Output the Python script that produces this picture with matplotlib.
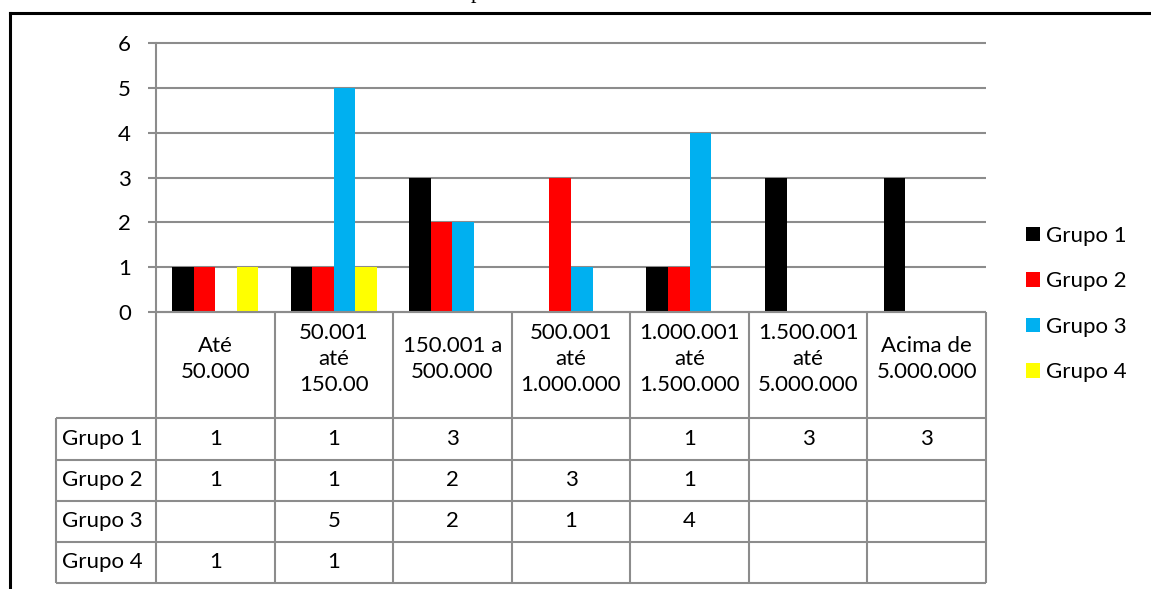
import numpy as np
import matplotlib
matplotlib.use("Agg")
import matplotlib.pyplot as plt
from matplotlib.lines import Line2D
from matplotlib.patches import Patch

plt.rcParams["font.family"] = ["Lato", "DejaVu Sans"]

# faixas de valor (categorias) e contagens por grupo
categorias = ["Até\n50.000", "50.001\naté\n150.00", "150.001 a\n500.000",
              "500.001\naté\n1.000.000", "1.000.001\naté\n1.500.000",
              "1.500.001\naté\n5.000.000", "Acima de\n5.000.000"]
grupos = ["Grupo 1", "Grupo 2", "Grupo 3", "Grupo 4"]
grupo1 = [1, 1, 3, np.nan, 1, 3, 3]
grupo2 = [1, 1, 2, 3, 1, np.nan, np.nan]
grupo3 = [np.nan, 5, 2, 1, 4, np.nan, np.nan]
grupo4 = [1, 1, np.nan, np.nan, np.nan, np.nan, np.nan]
cores = ["#000000", "#FF0000", "#00B0F0", "#FFFF00"]
yticks = [0, 1, 2, 3, 4, 5, 6]

W, H = 1151, 589
GRID = "#8C8C8C"
FS = 16

fig = plt.figure(figsize=(W / 100, H / 100), dpi=100)


def fx(px):
    return px / W


def fy(py):
    return 1 - py / H


# área do gráfico
x0, x1, ytop, y0 = 156, 986, 43, 312
ax = fig.add_axes([fx(x0), fy(y0), fx(x1 - x0), (y0 - ytop) / H])
ncat = len(categorias)
ax.set_xlim(-0.5, ncat - 0.5)
ax.set_ylim(0, 6)
for s in ("top", "right", "bottom"):
    ax.spines[s].set_visible(False)
ax.spines["left"].set_color(GRID)
ax.spines["left"].set_linewidth(1.5)
ax.set_xticks([])
ax.set_yticks(yticks)
ax.tick_params(axis="y", length=6, width=1.5, color=GRID, pad=12,
               labelsize=FS, labelcolor="black")
ax.hlines(yticks, -0.5, ncat - 0.5, color=GRID, lw=1.5, clip_on=False, zorder=1)

xs = np.arange(ncat)
bw = 0.182
series = [grupo1, grupo2, grupo3, grupo4]
for i, (vals, cor, nome) in enumerate(zip(series, cores, grupos)):
    ax.bar(xs + (i - 1.5) * bw, vals, bw, color=cor, label=nome, zorder=3)

# tabela de dados abaixo do gráfico
tx0, ty1 = 56, 583
cw = (x1 - x0) / ncat
lab_w = (x0 - tx0) / cw
head_h = 106 / 41
tax = fig.add_axes([fx(tx0), fy(ty1), fx(x1 - tx0), (ty1 - y0) / H])
tax.set_xlim(-0.5 - lab_w, ncat - 0.5)
tax.set_ylim(head_h + len(grupos), 0)
tax.axis("off")
lk = dict(color=GRID, lw=1.5, clip_on=False)
tax.vlines(np.arange(ncat + 1) - 0.5, 0, head_h + len(grupos), **lk)
tax.vlines(-0.5 - lab_w, head_h, head_h + len(grupos), **lk)
tax.hlines(head_h + np.arange(len(grupos) + 1), -0.5 - lab_w, ncat - 0.5, **lk)
tax.hlines(0, -0.5, ncat - 0.5, **lk)

for j, cat in enumerate(categorias):
    tax.text(j, head_h / 2 - 0.15, cat, ha="center", va="center",
             fontsize=FS, linespacing=1.4)
for i, (nome, vals) in enumerate(zip(grupos, series)):
    yc = head_h + i + 0.5
    tax.text(-0.5 - lab_w + 0.05, yc, nome, ha="left", va="center", fontsize=FS)
    for j, v in enumerate(vals):
        if not np.isnan(v):
            tax.text(j, yc, f"{v:g}", ha="center", va="center", fontsize=FS)

# legenda
handles = [Patch(facecolor=c, edgecolor="none") for c in cores]
fig.legend(handles, grupos, loc="center left",
           bbox_to_anchor=(fx(1026), fy(304)), frameon=False, fontsize=FS,
           handlelength=0.62, handleheight=0.62, handletextpad=0.3,
           labelspacing=1.15, borderpad=0, borderaxespad=0)

# moldura e legenda cortada acima
fig.add_artist(Line2D([fx(10), 1], [fy(13), fy(13)], color="black", lw=2.2))
fig.add_artist(Line2D([fx(10), fx(10)], [fy(13), 0], color="black", lw=2.2))
fig.text(fx(476), fy(-2), "p", family="Liberation Serif", fontsize=16,
         ha="center", va="baseline")

fig.savefig("out.png", dpi=100)
